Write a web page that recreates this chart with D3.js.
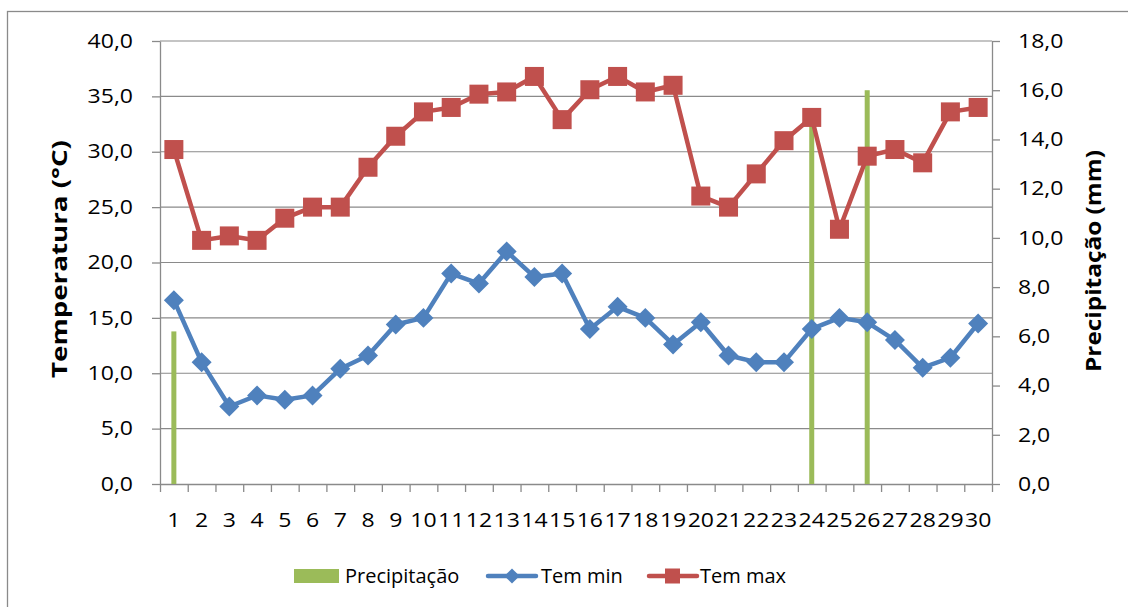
<!DOCTYPE html>
<html><head><meta charset="utf-8">
<script src="https://cdn.jsdelivr.net/npm/d3@7"></script>
<style>
body{margin:0;background:#fff}
svg{display:block}
text{font-family:"Open Sans",sans-serif;fill:#000}
</style>
</head><body>
<svg id="chart" width="1128" height="607"></svg>
<script>
// ---- data ----
const days = ["1","2","3","4","5","6","7","8","9","10","11","12","13","14","15","16","17","18","19","20","21","22","23","24","25","26","27","28","29","30"];
const temMin = [16.6,11.0,7.0,8.0,7.6,8.0,10.4,11.6,14.4,15.0,19.0,18.1,21.0,18.7,19.0,14.0,16.0,15.0,12.6,14.6,11.6,11.0,11.0,14.0,15.0,14.6,13.0,10.5,11.4,14.5];
const temMax = [30.2,22.0,22.4,22.0,24.0,25.0,25.0,28.6,31.4,33.6,34.0,35.2,35.4,36.8,32.9,35.6,36.8,35.4,36.0,26.0,25.0,28.0,31.0,33.1,23.0,29.6,30.2,29.0,33.6,34.0];
const precip = [6.2,0,0,0,0,0,0,0,0,0,0,0,0,0,0,0,0,0,0,0,0,0,0,14.8,0,16.0,0,0,0,0];
const tempTicks = [0,5,10,15,20,25,30,35,40];
const precipTicks = [0,2,4,6,8,10,12,14,16,18];
const seriesNames = ["Precipitação","Tem min","Tem max"];
const leftTitle = "Temperatura (°C)";
const rightTitle = "Precipitação (mm)";

// ---- style ----
const C_GREEN = "#9BBB59", C_BLUE = "#4F81BD", C_RED = "#C0504D", C_GRID = "#8a8a8a";
const FS = 19.5, NUM_STRETCH = 1.18;
const L = 160, R = 992, T = 41, B = 484;

const svg = d3.select("#chart");
const fmt = d => d.toFixed(1).replace(".", ",");

// chart border (cropped on right/bottom like reference)
svg.append("rect").attr("x", 7.5).attr("y", 11.5).attr("width", 1140).attr("height", 620)
  .attr("fill", "#fff").attr("stroke", C_GRID).attr("stroke-width", 1.3);

const x = d3.scaleBand().domain(days).range([L, R]).padding(0);
const xb = d3.scaleLinear().domain([0, days.length]).range([L, R]);
const yT = d3.scaleLinear().domain([0, 40]).range([B, T]);
const yP = d3.scaleLinear().domain([0, 18]).range([B, T]);

// gridlines
svg.append("g").selectAll("line").data(tempTicks.filter(d => d > 0)).join("line")
  .attr("x1", L).attr("x2", R).attr("y1", d => yT(d)).attr("y2", d => yT(d))
  .attr("stroke", C_GRID).attr("stroke-width", 1.2);

// left axis
const gL = svg.append("g").attr("transform", `translate(${L},0)`)
  .call(d3.axisLeft(yT).tickValues(tempTicks).tickSize(8).tickSizeOuter(0).tickFormat(fmt));
// right axis
const gR = svg.append("g").attr("transform", `translate(${R},0)`)
  .call(d3.axisRight(yP).tickValues(precipTicks).tickSize(8).tickSizeOuter(0).tickFormat(fmt));
// bottom axis ticks at category boundaries
const gB = svg.append("g").attr("transform", `translate(0,${B})`)
  .call(d3.axisBottom(xb).tickValues(d3.range(0, days.length + 1)).tickSize(8).tickSizeOuter(0).tickFormat(""));
// bottom labels
const gBL = svg.append("g").attr("transform", `translate(0,${B})`)
  .call(d3.axisBottom(x).tickSize(0).tickFormat(d => d));
gBL.select(".domain").remove();

[gL, gR, gB].forEach(g => {
  g.select(".domain").attr("stroke", C_GRID).attr("stroke-width", 1.3);
  g.selectAll(".tick line").attr("stroke", C_GRID).attr("stroke-width", 1.3);
});
[gL, gR, gBL].forEach(g => g.selectAll("text").style("font-size", FS + "px").attr("font-family", null).style("font-family", '"Open Sans",sans-serif').attr("fill", "#000"));
gL.selectAll("text").attr("x", -27 / NUM_STRETCH).attr("transform", `scale(${NUM_STRETCH},1)`);
gR.selectAll("text").attr("x", 26 / NUM_STRETCH).attr("transform", `scale(${NUM_STRETCH},1)`);
gBL.selectAll("text").attr("y", 43).attr("dy", 0).attr("transform", `scale(${NUM_STRETCH},1)`)
  .attr("x", function() { return 0; });
// scale about each tick's own origin: ticks are translated groups, so x=0 stays centered

// precipitation bars
const barW = 5;
svg.append("g").selectAll("rect").data(precip.map((v, i) => ({ d: days[i], v }))).join("rect")
  .attr("x", d => x(d.d) + x.bandwidth() / 2 - barW / 2)
  .attr("width", barW)
  .attr("y", d => yP(d.v))
  .attr("height", d => yP(0) - yP(d.v))
  .attr("fill", C_GREEN);

// lines
const line = d3.line().x(d => x(d.d) + x.bandwidth() / 2).y(d => yT(d.v));
function drawSeries(vals, color, marker) {
  const pts = vals.map((v, i) => ({ d: days[i], v }));
  svg.append("path").datum(pts).attr("d", line).attr("fill", "none")
    .attr("stroke", color).attr("stroke-width", 4.5).attr("stroke-linejoin", "round");
  const g = svg.append("g");
  if (marker === "diamond") {
    g.selectAll("path").data(pts).join("path")
      .attr("d", d3.symbol(d3.symbolSquare, 200)())
      .attr("transform", d => `translate(${x(d.d) + x.bandwidth() / 2},${yT(d.v)}) rotate(45)`)
      .attr("fill", color);
  } else {
    g.selectAll("rect").data(pts).join("rect")
      .attr("x", d => x(d.d) + x.bandwidth() / 2 - 9.5).attr("y", d => yT(d.v) - 9.5)
      .attr("width", 19).attr("height", 19).attr("fill", color);
  }
}
drawSeries(temMin, C_BLUE, "diamond");
drawSeries(temMax, C_RED, "square");

// axis titles
svg.append("text").attr("transform", `translate(67,${259}) rotate(-90)`)
  .attr("text-anchor", "middle").style("font-size", "21px").style("font-weight", "bold")
  .attr("textLength", 238).attr("lengthAdjust", "spacingAndGlyphs").text(leftTitle);
svg.append("text").attr("transform", `translate(1101,${261}) rotate(-90)`)
  .attr("text-anchor", "middle").style("font-size", "21px").style("font-weight", "bold")
  .attr("textLength", 222).attr("lengthAdjust", "spacingAndGlyphs").text(rightTitle);

// legend
const lg = svg.append("g");
const ly = 576;
lg.append("rect").attr("x", 294).attr("y", 569).attr("width", 45).attr("height", 14).attr("fill", C_GREEN);
lg.append("text").attr("x", 345).attr("y", 583).style("font-size", "20px").text(seriesNames[0]);
lg.append("line").attr("x1", 488).attr("x2", 536).attr("y1", ly).attr("y2", ly).attr("stroke", C_BLUE).attr("stroke-width", 4.5).attr("stroke-linecap", "round");
lg.append("path").attr("d", d3.symbol(d3.symbolSquare, 115)()).attr("transform", `translate(512,${ly}) rotate(45)`).attr("fill", C_BLUE);
lg.append("text").attr("x", 541).attr("y", 583).style("font-size", "20px").text(seriesNames[1]);
lg.append("line").attr("x1", 649).attr("x2", 697).attr("y1", ly).attr("y2", ly).attr("stroke", C_RED).attr("stroke-width", 4.5).attr("stroke-linecap", "round");
lg.append("rect").attr("x", 665).attr("y", ly - 7.5).attr("width", 15).attr("height", 15).attr("fill", C_RED);
lg.append("text").attr("x", 700).attr("y", 583).style("font-size", "20px").text(seriesNames[2]);
</script>
</body></html>
